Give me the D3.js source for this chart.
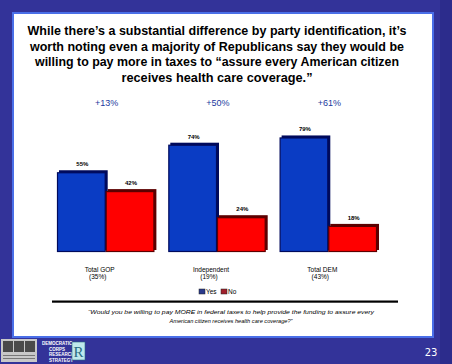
<!DOCTYPE html>
<html>
<head>
<meta charset="utf-8">
<script src="https://cdn.jsdelivr.net/npm/d3@7"></script>
<style>
  html, body { margin: 0; padding: 0; background: #333399; }
  svg { display: block; }
</style>
</head>
<body>
<div id="chart"></div>
<script>
// party id breakdown of "pay more in taxes" question, yes vs no by group

const categories = ['Total GOP', 'Independent', 'Total DEM'];
const categoryShares = ['(35%)', '(19%)', '(43%)'];
const seriesNames = ['Yes', 'No'];
const yesValues = [55, 74, 79];
const noValues = [42, 24, 18];

const titleLines = [
  'While there\u2019s a substantial difference by party identification, it\u2019s',
  'worth noting even a majority of Republicans say they would be',
  'willing to pay more in taxes to \u201cassure every American citizen',
  'receives health care coverage.\u201d'
];
const footLines = [
  '\u201cWould you be willing to pay MORE in federal taxes to help provide the funding to assure every',
  'American citizen receives health care coverage?\u201d'
];
const pageNumber = '23';

const W = 452, H = 364;
const BLUE = '#0a3cc4', BLUE_DARK = '#000a5c';
const RED = '#ff0000', RED_DARK = '#5c0000';

const svg = d3.select('#chart').append('svg')
  .attr('width', W)
  .attr('height', H);

// slide frame
svg.append('rect').attr('width', W).attr('height', H).attr('fill', '#333399');
svg.append('rect').attr('x', 440).attr('width', 12).attr('height', H).attr('fill', '#2c2c8c');
svg.append('rect').attr('x', 12).attr('y', 12).attr('width', 422).attr('height', 326)
  .attr('fill', '#4a6fe8');
svg.append('rect').attr('x', 14).attr('y', 14).attr('width', 418).attr('height', 322)
  .attr('fill', '#ffffff');

// title
const title = svg.append('g')
  .attr('font-family', '"Liberation Sans", Arial, sans-serif')
  .attr('font-weight', 'bold')
  .attr('font-size', 13)
  .attr('text-anchor', 'middle')
  .attr('fill', '#000');
const titleWidths = [379, 374, 364, 191];
titleLines.forEach((t, i) => {
  title.append('text')
    .attr('x', 217)
    .attr('y', 35 + i * 15.5)
    .attr('textLength', titleWidths[i])
    .attr('lengthAdjust', 'spacingAndGlyphs')
    .text(t);
});

// scales
const x0 = d3.scaleBand()
  .domain(categories)
  .range([57, 377])
  .paddingInner(0.125);

const x1 = d3.scaleBand()
  .domain(seriesNames)
  .range([0, x0.bandwidth()]);

const y = d3.scaleLinear()
  .domain([0, 100])
  .range([252, 107]);

const rows = categories.map((c, i) => ({
  cat: c,
  share: categoryShares[i],
  values: [
    { key: 'Yes', value: yesValues[i], fill: BLUE, edge: BLUE_DARK },
    { key: 'No', value: noValues[i], fill: RED, edge: RED_DARK }
  ]
}));

const groups = svg.selectAll('g.group')
  .data(rows)
  .enter()
  .append('g')
  .attr('class', 'group')
  .attr('transform', d => `translate(${x0(d.cat)},0)`);

// 3d-ish shadow edge behind each bar
groups.selectAll('rect.shadow')
  .data(d => d.values)
  .enter()
  .append('rect')
  .attr('class', 'shadow')
  .attr('x', d => x1(d.key) + 2)
  .attr('y', d => y(d.value) - 2)
  .attr('width', x1.bandwidth())
  .attr('height', d => y(0) - y(d.value))
  .attr('fill', d => d.edge);

groups.selectAll('rect.bar')
  .data(d => d.values)
  .enter()
  .append('rect')
  .attr('class', 'bar')
  .attr('x', d => x1(d.key) + 0.5)
  .attr('y', d => y(d.value) + 0.5)
  .attr('width', x1.bandwidth() - 1)
  .attr('height', d => y(0) - y(d.value) - 1)
  .attr('fill', d => d.fill)
  .attr('stroke', d => d.edge)
  .attr('stroke-width', 1.2);

// value labels
groups.selectAll('text.val')
  .data(d => d.values)
  .enter()
  .append('text')
  .attr('class', 'val')
  .attr('x', d => x1(d.key) + x1.bandwidth() / 2 + 1)
  .attr('y', d => y(d.value) - 6)
  .attr('text-anchor', 'middle')
  .attr('font-family', '"Liberation Sans", Arial, sans-serif')
  .attr('font-weight', 'bold')
  .attr('font-size', 6)
  .text(d => d.value + '%');

// yes minus no gap labels
groups.append('text')
  .attr('x', x0.bandwidth() / 2 + 1)
  .attr('y', 106)
  .attr('text-anchor', 'middle')
  .attr('font-family', '"Liberation Sans", Arial, sans-serif')
  .attr('font-size', 9)
  .attr('fill', '#1a3a9e')
  .text(d => '+' + (d.values[0].value - d.values[1].value) + '%');

// category labels
const catLabel = groups.append('text')
  .attr('text-anchor', 'middle')
  .attr('font-family', '"Liberation Sans", Arial, sans-serif')
  .attr('font-size', 6.5)
  .attr('fill', '#000');
catLabel.append('tspan')
  .attr('x', x0.bandwidth() / 2 - 6)
  .attr('y', 272)
  .text(d => d.cat);
catLabel.append('tspan')
  .attr('x', x0.bandwidth() / 2 - 8)
  .attr('y', 279)
  .text(d => d.share);

// legend
const legend = svg.append('g')
  .attr('font-family', '"Liberation Sans", Arial, sans-serif')
  .attr('font-size', 6.5);
const legendX = [199, 221];
seriesNames.forEach((s, i) => {
  legend.append('rect')
    .attr('x', legendX[i])
    .attr('y', 289)
    .attr('width', 6)
    .attr('height', 5)
    .attr('fill', i === 0 ? '#2a3a8c' : '#a0202c')
    .attr('stroke', '#222')
    .attr('stroke-width', 0.5);
  legend.append('text')
    .attr('x', legendX[i] + 7)
    .attr('y', 294)
    .text(s);
});

// rule and footnote
svg.append('rect')
  .attr('x', 52).attr('y', 300.5)
  .attr('width', 346).attr('height', 2.2)
  .attr('fill', '#000');

const foot = svg.append('g')
  .attr('font-family', '"Liberation Sans", Arial, sans-serif')
  .attr('font-style', 'italic')
  .attr('font-size', 6)
  .attr('text-anchor', 'middle');
const footWidths = [286, 123];
footLines.forEach((t, i) => {
  foot.append('text')
    .attr('x', 231)
    .attr('y', 314 + i * 8.5)
    .attr('textLength', footWidths[i])
    .attr('lengthAdjust', 'spacingAndGlyphs')
    .text(t);
});

// bottom strip: logos and page number
const logo = svg.append('g');
logo.append('rect').attr('x', 1).attr('y', 339).attr('width', 36).attr('height', 23).attr('fill', '#c8c8c8');
[0, 1, 2].forEach(i => {
  logo.append('rect')
    .attr('x', 3 + i * 11).attr('y', 341)
    .attr('width', 10).attr('height', 11)
    .attr('fill', '#4a4a4a');
});
logo.append('rect').attr('x', 3).attr('y', 355).attr('width', 32).attr('height', 1).attr('fill', '#777');
logo.append('rect').attr('x', 3).attr('y', 358).attr('width', 32).attr('height', 1).attr('fill', '#777');
const corps = ['DEMOCRATIC', 'CORPS', 'RESEARCH', 'STRATEGY'];
corps.forEach((t, i) => {
  logo.append('text')
    .attr('x', i === 0 ? 42 : 49)
    .attr('y', 345 + i * 5.5)
    .attr('font-family', '"Liberation Sans", Arial, sans-serif')
    .attr('font-weight', 'bold')
    .attr('font-size', 4.5)
    .attr('fill', '#ffffff')
    .text(t);
});
logo.append('rect').attr('x', 72).attr('y', 342).attr('width', 13).attr('height', 18)
  .attr('fill', '#bfe8ec').attr('stroke', '#2a6a80').attr('stroke-width', 0.6);
logo.append('text').attr('x', 78.5).attr('y', 357).attr('text-anchor', 'middle')
  .attr('font-family', '"Liberation Serif", serif').attr('font-size', 15)
  .attr('fill', '#2a6a80').text('R');

svg.append('text')
  .attr('x', 431)
  .attr('y', 356)
  .attr('text-anchor', 'middle')
  .attr('font-family', '"DejaVu Sans", sans-serif')
  .attr('font-size', 10)
  .attr('fill', '#ffffff')
  .text(pageNumber);
</script>
</body>
</html>
